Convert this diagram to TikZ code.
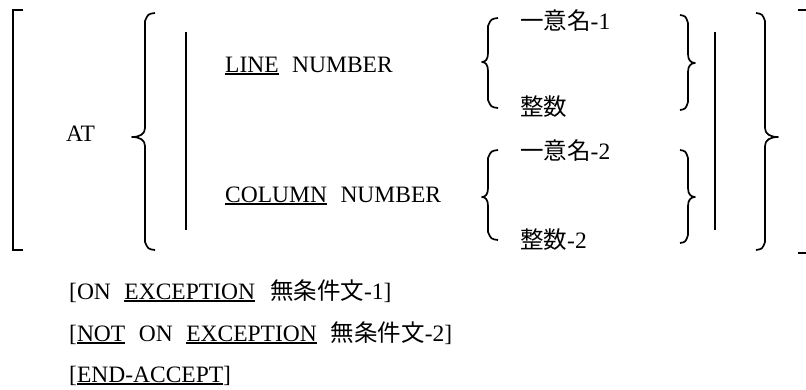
\documentclass[tikz,border=0pt]{standalone}
\usepackage{fontspec}
\setmainfont{Liberation Serif}
\newfontfamily\cjk{Noto Sans CJK JP}
\newcommand\myul[1]{\setbox0\hbox{#1}\rlap{\rule[-2.6pt]{\wd0}{1.3pt}}\box0}
\newcommand\gp{\hspace{13.5pt}}
\newcommand\mybrace[6]{%
  \draw[bracepath] ({#1+(#5)},#2) .. controls ({#1+0.3*(#5)},{#2+1}) .. (#1,{#2+8})
    -- (#1,{#3-9}) .. controls (#1,{#3-3}) and ({#1-0.4*(#6)},#3) .. ({#1-(#6)},#3)
    .. controls ({#1-0.4*(#6)},#3) and (#1,{#3+3}) .. (#1,{#3+9})
    -- (#1,{#4-8}) .. controls ({#1+0.3*(#5)},{#4-1}) .. ({#1+(#5)},#4);}
\begin{document}
\begin{tikzpicture}[x=1pt,y=-1pt,
  bracepath/.style={line width=1.7pt,line join=round},
  bar/.style={line width=2pt},
  txt/.style={anchor=base west,inner sep=0pt,font=\fontsize{23.5}{28}\selectfont}]
\useasboundingbox (0,0) rectangle (806,389);
% left square bracket
\draw[line width=2.4pt] (23,10) -- (13,10) -- (13,250) -- (23,250);
% right square bracket (serifs only)
\draw[line width=2.4pt] (798,10) -- (806,10);
\draw[line width=2.4pt] (798,253) -- (806,253);
% braces
\mybrace{145}{13}{137}{250}{10}{13}
\mybrace{488}{18}{62}{108}{10}{6}
\mybrace{488}{150}{197}{240}{10}{6}
\mybrace{688}{15}{63}{110}{-8}{-7}
\mybrace{688}{150}{197}{243}{-8}{-7}
\mybrace{765}{13}{137}{250}{-9}{-13}
% vertical bars
\draw[bar] (186,32) -- (186,230);
\draw[bar] (715,32) -- (715,230);
% texts
\node[txt] (at) at (66,141) {AT};
\node[txt] (line) at (225,72) {\myul{LINE}\gp NUMBER};
\node[txt] (col) at (225,202) {\myul{COLUMN}\gp NUMBER};
\node[txt] (id1) at (520,29) {{\cjk 一意名}-1};
\node[txt] (int1) at (520,115) {{\cjk 整数}};
\node[txt] (id2) at (520,159) {{\cjk 一意名}-2};
\node[txt] (int2) at (520,248) {{\cjk 整数}-2};
\node[txt] (r1) at (69,299) {[ON\gp\myul{EXCEPTION}\hspace{15pt}{\cjk 無条件文}-1]};
\node[txt] (r2) at (69,341) {[\myul{NOT}\gp ON\gp\myul{EXCEPTION}\hspace{14pt}{\cjk 無条件文}-2]};
\node[txt] (r3) at (69,382) {[\myul{END-ACCEPT}]};
\end{tikzpicture}
\end{document}
